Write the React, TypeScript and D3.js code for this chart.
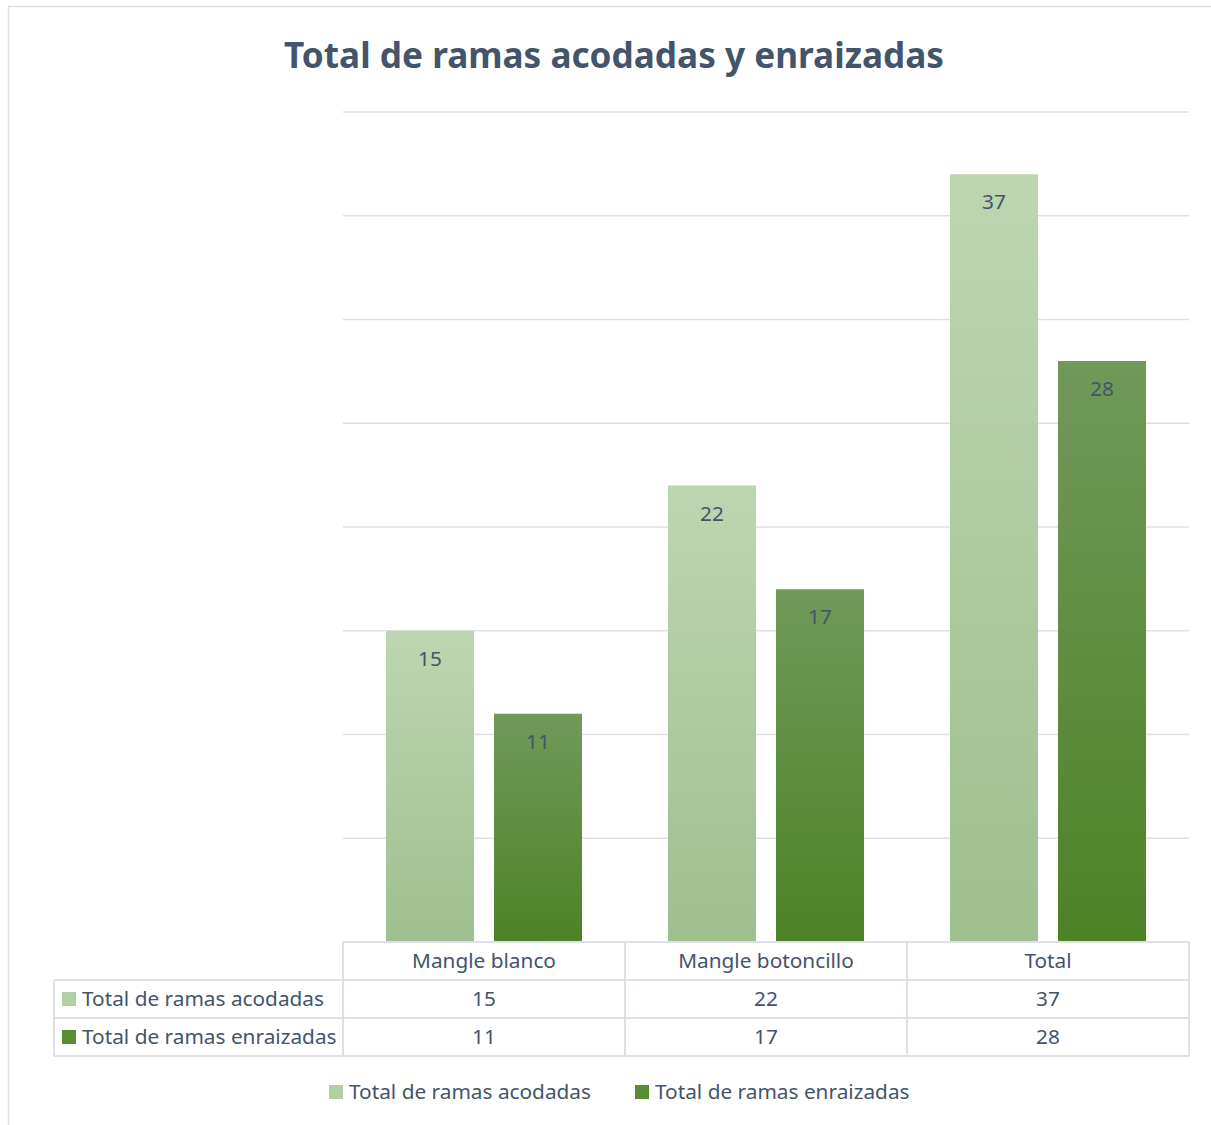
import * as d3 from "d3";
import { useEffect, useRef } from "react";

const categories = ["Mangle blanco", "Mangle botoncillo", "Total"];
const seriesNames = ["Total de ramas acodadas", "Total de ramas enraizadas"];
const acodadas = [15, 22, 37];
const enraizadas = [11, 17, 28];
const yTicks = [0, 5, 10, 15, 20, 25, 30, 35, 40];

const width = 1211;
const height = 1125;
const plotLeft = 343;
const plotRight = 1189;
const plotTop = 112;
const plotBottom = 942;
const rowH = 38;
const tableLeft = 54;

const textColor = "#44546a";
const lineColor = "#dde1e7";
const font = "'Noto Sans', sans-serif";
const fontSize = 20.8;

const App = () => {
    const ref = useRef<SVGSVGElement | null>(null);

    useEffect(() => {
        const svg = d3.select(ref.current);
        svg.selectAll("*").remove();

        const defs = svg.append("defs");
        const gradients = [
            { id: "gradLight", top: "#bdd6b1", bottom: "#9fbf8f" },
            { id: "gradDark", top: "#70995a", bottom: "#4e8226" }
        ];
        gradients.forEach(g => {
            const lg = defs.append("linearGradient")
                .attr("id", g.id)
                .attr("x1", 0).attr("y1", 0).attr("x2", 0).attr("y2", 1);
            lg.append("stop").attr("offset", "0%").attr("stop-color", g.top);
            lg.append("stop").attr("offset", "100%").attr("stop-color", g.bottom);
        });
        const fills = ["url(#gradLight)", "url(#gradDark)"];
        const keyColors = ["#b3d0a5", "#5a8c36"];

        // outer border
        svg.append("rect")
            .attr("x", 8.5).attr("y", 6.5)
            .attr("width", width + 10).attr("height", height + 10)
            .attr("fill", "white")
            .attr("stroke", "#dadde2")
            .attr("stroke-width", 1.5);

        svg.append("text")
            .attr("x", 614).attr("y", 68)
            .attr("text-anchor", "middle")
            .attr("font-family", font)
            .attr("font-weight", "bold")
            .attr("font-size", 36)
            .attr("fill", textColor)
            .attr("textLength", 660)
            .attr("lengthAdjust", "spacingAndGlyphs")
            .text("Total de ramas acodadas y enraizadas");

        const x = d3.scaleBand()
            .domain(categories)
            .range([plotLeft, plotRight]);
        const inner = d3.scaleBand()
            .domain(seriesNames)
            .range([43, x.bandwidth() - 43])
            .paddingInner(20 / 108);
        const y = d3.scaleLinear()
            .domain([0, 40])
            .range([plotBottom, plotTop]);

        // gridlines
        svg.append("g")
            .selectAll("line")
            .data(yTicks.slice(1))
            .join("line")
            .attr("x1", plotLeft).attr("x2", plotRight)
            .attr("y1", d => y(d)).attr("y2", d => y(d))
            .attr("stroke", lineColor)
            .attr("stroke-width", 1.5);

        const series = [acodadas, enraizadas];
        series.forEach((values, si) => {
            const g = svg.append("g");
            g.selectAll("rect")
                .data(values)
                .join("rect")
                .attr("x", (_, i) => (x(categories[i]) || 0) + (inner(seriesNames[si]) || 0))
                .attr("y", d => y(d))
                .attr("width", inner.bandwidth())
                .attr("height", d => y(0) - y(d))
                .attr("fill", fills[si]);
            g.selectAll("text")
                .data(values)
                .join("text")
                .attr("x", (_, i) => (x(categories[i]) || 0) + (inner(seriesNames[si]) || 0) + inner.bandwidth() / 2)
                .attr("y", d => y(d) + 35)
                .attr("text-anchor", "middle")
                .attr("font-family", font)
                .attr("font-size", fontSize)
                .attr("fill", textColor)
                .text(d => d);
        });

        // data table
        const table = svg.append("g")
            .attr("stroke", lineColor)
            .attr("stroke-width", 2)
            .attr("fill", "none");
        table.append("line")
            .attr("x1", plotLeft).attr("x2", plotRight)
            .attr("y1", plotBottom).attr("y2", plotBottom);
        [1, 2, 3].forEach(r => {
            table.append("line")
                .attr("x1", tableLeft).attr("x2", plotRight)
                .attr("y1", plotBottom + r * rowH).attr("y2", plotBottom + r * rowH);
        });
        table.append("line")
            .attr("x1", tableLeft).attr("x2", tableLeft)
            .attr("y1", plotBottom + rowH).attr("y2", plotBottom + 3 * rowH);
        [plotLeft, ...categories.map(c => (x(c) || 0) + x.bandwidth())].forEach(px => {
            table.append("line")
                .attr("x1", px).attr("x2", px)
                .attr("y1", plotBottom).attr("y2", plotBottom + 3 * rowH);
        });

        const textStyle = (sel: d3.Selection<SVGTextElement, any, any, any>) => sel
            .attr("font-family", font)
            .attr("font-size", fontSize)
            .attr("fill", textColor);

        svg.append("g")
            .selectAll("text")
            .data(categories)
            .join("text")
            .attr("x", d => (x(d) || 0) + x.bandwidth() / 2)
            .attr("y", plotBottom + 26)
            .attr("text-anchor", "middle")
            .call(textStyle)
            .text(d => d);

        series.forEach((values, si) => {
            const rowY = plotBottom + (si + 1) * rowH;
            svg.append("rect")
                .attr("x", 62).attr("y", rowY + 12)
                .attr("width", 14).attr("height", 14)
                .attr("fill", keyColors[si]);
            svg.append("text")
                .attr("x", 82).attr("y", rowY + 26)
                .call(textStyle)
                .text(seriesNames[si]);
            svg.append("g")
                .selectAll("text")
                .data(values)
                .join("text")
                .attr("x", (_, i) => (x(categories[i]) || 0) + x.bandwidth() / 2)
                .attr("y", rowY + 26)
                .attr("text-anchor", "middle")
                .call(textStyle)
                .text(d => d);
        });

        // legend
        const legendX = [329, 635];
        seriesNames.forEach((name, si) => {
            svg.append("rect")
                .attr("x", legendX[si]).attr("y", 1085)
                .attr("width", 14).attr("height", 14)
                .attr("fill", keyColors[si]);
            svg.append("text")
                .attr("x", legendX[si] + 20).attr("y", 1099)
                .call(textStyle)
                .text(name);
        });
    }, []);

    return (
        <svg
            ref={ref}
            width={width}
            height={height}
            style={{ position: "absolute", left: 0, top: 0 }}
        />
    );
};

export default App;
